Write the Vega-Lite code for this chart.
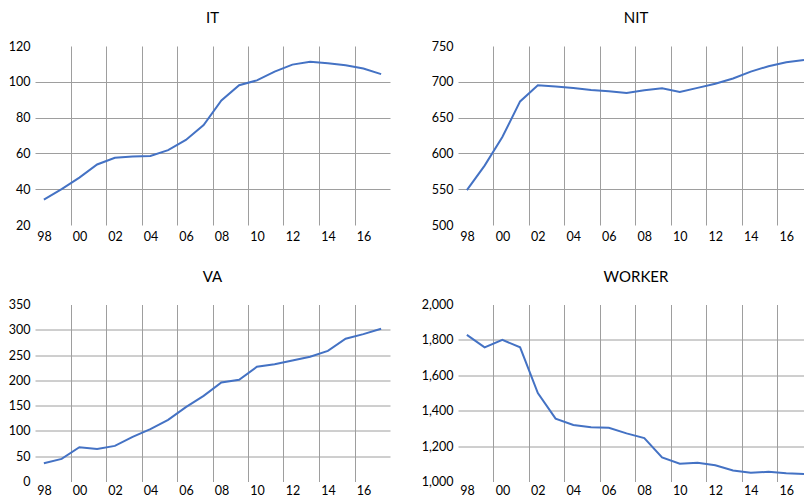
{
  "$schema": "https://vega.github.io/schema/vega-lite/v6.json",
  "padding": {"left": 8, "top": 11, "right": 0, "bottom": 0},
  "background": "white",
  "datasets": {
    "series": [
      {"year": 1998, "IT": 34.2, "NIT": 548.6, "VA": 36.1, "WORKER": 1828},
      {"year": 1999, "IT": 40.0, "NIT": 583.0, "VA": 44.7, "WORKER": 1758},
      {"year": 2000, "IT": 46.5, "NIT": 623.0, "VA": 67.8, "WORKER": 1800},
      {"year": 2001, "IT": 53.8, "NIT": 672.6, "VA": 64.5, "WORKER": 1758},
      {"year": 2002, "IT": 57.6, "NIT": 695.3, "VA": 70.4, "WORKER": 1500},
      {"year": 2003, "IT": 58.2, "NIT": 693.4, "VA": 88.3, "WORKER": 1355},
      {"year": 2004, "IT": 58.6, "NIT": 691.5, "VA": 103.4, "WORKER": 1319},
      {"year": 2005, "IT": 61.8, "NIT": 688.6, "VA": 121.9, "WORKER": 1307},
      {"year": 2006, "IT": 67.5, "NIT": 686.8, "VA": 147.0, "WORKER": 1304},
      {"year": 2007, "IT": 75.8, "NIT": 684.4, "VA": 169.4, "WORKER": 1272},
      {"year": 2008, "IT": 89.6, "NIT": 688.2, "VA": 195.8, "WORKER": 1245},
      {"year": 2009, "IT": 98.1, "NIT": 691.0, "VA": 201.0, "WORKER": 1136},
      {"year": 2010, "IT": 100.8, "NIT": 685.8, "VA": 226.8, "WORKER": 1100},
      {"year": 2011, "IT": 105.7, "NIT": 691.5, "VA": 232.0, "WORKER": 1106},
      {"year": 2012, "IT": 109.6, "NIT": 697.2, "VA": 239.3, "WORKER": 1092},
      {"year": 2013, "IT": 111.2, "NIT": 704.7, "VA": 246.6, "WORKER": 1062},
      {"year": 2014, "IT": 110.4, "NIT": 714.2, "VA": 258.4, "WORKER": 1049},
      {"year": 2015, "IT": 109.3, "NIT": 721.8, "VA": 282.2, "WORKER": 1055},
      {"year": 2016, "IT": 107.4, "NIT": 727.4, "VA": 291.4, "WORKER": 1047},
      {"year": 2017, "IT": 104.3, "NIT": 730.3, "VA": 302.0, "WORKER": 1043}
    ]
  },
  "data": {"name": "series"},
  "columns": 2,
  "align": "each",
  "spacing": {"row": 26.5, "column": 31},
  "concat": [
    {
      "title": {"text": "IT"},
      "width": 355, "height": 179,
      "mark": {"type": "line", "color": "#4472C4", "strokeWidth": 2},
      "encoding": {
        "x": {"field": "year", "type": "quantitative",
          "scale": {"domain": [1997.5, 2017.5], "nice": false, "zero": false},
          "axis": {"values": [1997.5, 1999.5, 2001.5, 2003.5, 2005.5, 2007.5, 2009.5, 2011.5, 2013.5, 2015.5],
            "labelExpr": "substring(format(datum.value + 0.5, 'd'), 2)",
            "labelOffset": 8.9,
            "gridOpacity": {"condition": {"test": "datum.value < 1998", "value": 0}, "value": 1}}},
        "y": {"field": "IT", "type": "quantitative",
          "scale": {"domain": [20, 120], "nice": false, "zero": false},
          "axis": {"values": [20, 40, 60, 80, 100, 120],
            "gridOpacity": {"condition": {"test": "datum.value == 20 || datum.value == 120", "value": 0}, "value": 1}}}
      }
    },
    {
      "title": {"text": "NIT", "dx": 5},
      "width": 346, "height": 179,
      "mark": {"type": "line", "color": "#4472C4", "strokeWidth": 2},
      "encoding": {
        "x": {"field": "year", "type": "quantitative",
          "scale": {"domain": [1997.5, 2017], "nice": false, "zero": false},
          "axis": {"values": [1997.5, 1999.5, 2001.5, 2003.5, 2005.5, 2007.5, 2009.5, 2011.5, 2013.5, 2015.5],
            "labelExpr": "substring(format(datum.value + 0.5, 'd'), 2)",
            "labelOffset": 8.9,
            "gridOpacity": {"condition": {"test": "datum.value < 1998", "value": 0}, "value": 1}}},
        "y": {"field": "NIT", "type": "quantitative",
          "scale": {"domain": [500, 750], "nice": false, "zero": false},
          "axis": {"values": [500, 550, 600, 650, 700, 750],
            "gridOpacity": {"condition": {"test": "datum.value == 500 || datum.value == 750", "value": 0}, "value": 1}}}
      }
    },
    {
      "title": {"text": "VA"},
      "width": 355, "height": 177,
      "mark": {"type": "line", "color": "#4472C4", "strokeWidth": 2},
      "encoding": {
        "x": {"field": "year", "type": "quantitative",
          "scale": {"domain": [1997.5, 2017.5], "nice": false, "zero": false},
          "axis": {"values": [1997.5, 1999.5, 2001.5, 2003.5, 2005.5, 2007.5, 2009.5, 2011.5, 2013.5, 2015.5],
            "labelExpr": "substring(format(datum.value + 0.5, 'd'), 2)",
            "labelOffset": 8.9,
            "labelPadding": 3,
            "gridOpacity": {"condition": {"test": "datum.value < 1998", "value": 0}, "value": 1}}},
        "y": {"field": "VA", "type": "quantitative",
          "scale": {"domain": [0, 350], "nice": false, "zero": false},
          "axis": {"values": [0, 50, 100, 150, 200, 250, 300, 350],
            "gridOpacity": {"condition": {"test": "datum.value == 0 || datum.value == 350", "value": 0}, "value": 1}}}
      }
    },
    {
      "title": {"text": "WORKER", "dx": 5},
      "width": 346, "height": 177,
      "mark": {"type": "line", "color": "#4472C4", "strokeWidth": 2},
      "encoding": {
        "x": {"field": "year", "type": "quantitative",
          "scale": {"domain": [1997.5, 2017], "nice": false, "zero": false},
          "axis": {"values": [1997.5, 1999.5, 2001.5, 2003.5, 2005.5, 2007.5, 2009.5, 2011.5, 2013.5, 2015.5],
            "labelExpr": "substring(format(datum.value + 0.5, 'd'), 2)",
            "labelOffset": 8.9,
            "labelPadding": 3,
            "gridOpacity": {"condition": {"test": "datum.value < 1998", "value": 0}, "value": 1}}},
        "y": {"field": "WORKER", "type": "quantitative",
          "scale": {"domain": [1000, 2000], "nice": false, "zero": false},
          "axis": {"values": [1000, 1200, 1400, 1600, 1800, 2000], "format": ",.0f",
            "gridOpacity": {"condition": {"test": "datum.value == 1000 || datum.value == 2000", "value": 0}, "value": 1}}}
      }
    }
  ],
  "config": {
    "view": {"stroke": null},
    "font": "Lato",
    "title": {"font": "Lato", "fontSize": 15, "fontWeight": "normal", "color": "#000000", "anchor": "middle", "offset": 14},
    "axis": {
      "title": null,
      "domain": false,
      "ticks": false,
      "tickSize": 0,
      "grid": true,
      "gridColor": "#9e9e9e",
      "gridWidth": 1,
      "labelFont": "Lato",
      "labelFontSize": 12.5,
      "labelColor": "#000000",
      "labelPadding": 5,
      "labelOverlap": false,
      "labelFlush": false,
      "labelBound": false
    }
  }
}
